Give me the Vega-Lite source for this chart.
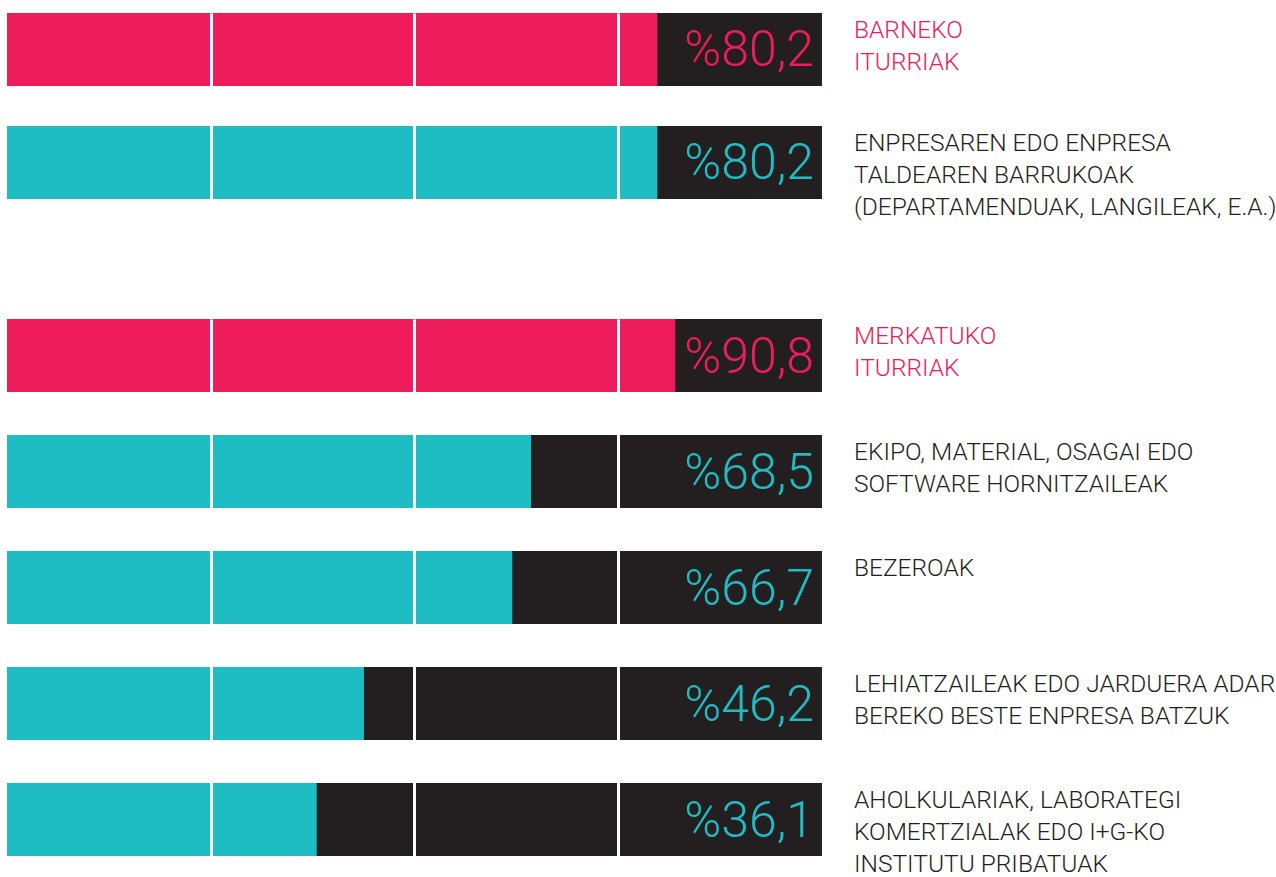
{
  "$schema": "https://vega.github.io/schema/vega-lite/v6.json",
  "padding": {"left": 7, "top": 13, "right": 0, "bottom": 0},
  "background": "white",
  "spacing": 76,
  "bounds": "flush",
  "config": {"view": {"stroke": null}, "font": "Roboto"},
  "datasets": {
    "rows": [
      {"panel": "top", "name": "BARNEKO\nITURRIAK", "kind": "header", "value": 80.2, "filled": 79.8},
      {"panel": "top", "name": "ENPRESAREN EDO ENPRESA\nTALDEAREN BARRUKOAK\n(DEPARTAMENDUAK, LANGILEAK, E.A.)", "kind": "item", "value": 80.2, "filled": 79.8},
      {"panel": "bottom", "name": "MERKATUKO\nITURRIAK", "kind": "header", "value": 90.8, "filled": 82.0},
      {"panel": "bottom", "name": "EKIPO, MATERIAL, OSAGAI EDO\nSOFTWARE HORNITZAILEAK", "kind": "item", "value": 68.5, "filled": 64.3},
      {"panel": "bottom", "name": "BEZEROAK", "kind": "item", "value": 66.7, "filled": 62.0},
      {"panel": "bottom", "name": "LEHIATZAILEAK EDO JARDUERA ADAR\nBEREKO BESTE ENPRESA BATZUK", "kind": "item", "value": 46.2, "filled": 43.8},
      {"panel": "bottom", "name": "AHOLKULARIAK, LABORATEGI\nKOMERTZIALAK EDO I+G-KO\nINSTITUTU PRIBATUAK", "kind": "item", "value": 36.1, "filled": 38.0}
    ]
  },
  "vconcat": [
    {
      "width": 1269,
      "height": 230,
      "data": {"name": "rows"},
      "transform": [
        {"filter": "datum.panel === 'top'"},
        {"calculate": "'%' + replace(format(datum.value, '.1f'), '.', ',')", "as": "valueText"}
      ],
      "encoding": {
        "y": {"field": "name", "type": "nominal", "sort": null, "axis": null,
              "scale": {"paddingInner": 0.354, "paddingOuter": 0.1947, "align": 0}}
      },
      "layer": [
        {
          "mark": {"type": "bar", "color": "#231F20"},
          "encoding": {
            "x": {"datum": 100, "type": "quantitative",
                  "scale": {"domain": [0, 155.71], "nice": false, "zero": true},
                  "axis": {"values": [25, 50, 75], "grid": true, "gridColor": "#ffffff", "gridWidth": 3, "gridOpacity": 1,
                           "labels": false, "ticks": false, "domain": false, "title": null, "zindex": 1}}
          }
        },
        {
          "mark": {"type": "bar"},
          "encoding": {
            "x": {"field": "filled", "type": "quantitative"},
            "color": {"field": "kind", "type": "nominal",
                      "scale": {"domain": ["header", "item"], "range": ["#EE1C5A", "#1DBDC3"]}, "legend": null}
          }
        },
        {
          "mark": {"type": "text", "align": "right", "baseline": "alphabetic", "dx": -8, "dy": 17,
                   "fontSize": 50, "fontWeight": 300, "font": "Roboto"},
          "encoding": {
            "x": {"datum": 100, "type": "quantitative"},
            "text": {"field": "valueText"},
            "color": {"field": "kind", "type": "nominal", "legend": null}
          }
        },
        {
          "mark": {"type": "text", "align": "left", "baseline": "top", "dx": 32, "dy": 6,
                   "fontSize": 24.5, "fontWeight": 300, "font": "Roboto", "lineBreak": "\n", "lineHeight": 32, "clip": true},
          "encoding": {
            "x": {"datum": 100, "type": "quantitative"},
            "y": {"field": "name", "type": "nominal", "sort": null, "bandPosition": 0, "axis": null},
            "text": {"field": "name"},
            "color": {"condition": {"test": "datum.kind === 'header'", "value": "#EE1C5A"}, "value": "#231F20"}
          }
        }
      ]
    },
    {
      "width": 1269,
      "height": 558,
      "data": {"name": "rows"},
      "transform": [
        {"filter": "datum.panel === 'bottom'"},
        {"calculate": "'%' + replace(format(datum.value, '.1f'), '.', ',')", "as": "valueText"}
      ],
      "encoding": {
        "y": {"field": "name", "type": "nominal", "sort": null, "axis": null,
              "scale": {"paddingInner": 0.3707, "paddingOuter": 0.0904, "align": 0}}
      },
      "layer": [
        {
          "mark": {"type": "bar", "color": "#231F20"},
          "encoding": {
            "x": {"datum": 100, "type": "quantitative",
                  "scale": {"domain": [0, 155.71], "nice": false, "zero": true},
                  "axis": {"values": [25, 50, 75], "grid": true, "gridColor": "#ffffff", "gridWidth": 3, "gridOpacity": 1,
                           "labels": false, "ticks": false, "domain": false, "title": null, "zindex": 1}}
          }
        },
        {
          "mark": {"type": "bar"},
          "encoding": {
            "x": {"field": "filled", "type": "quantitative"},
            "color": {"field": "kind", "type": "nominal",
                      "scale": {"domain": ["header", "item"], "range": ["#EE1C5A", "#1DBDC3"]}, "legend": null}
          }
        },
        {
          "mark": {"type": "text", "align": "right", "baseline": "alphabetic", "dx": -8, "dy": 17,
                   "fontSize": 50, "fontWeight": 300, "font": "Roboto"},
          "encoding": {
            "x": {"datum": 100, "type": "quantitative"},
            "text": {"field": "valueText"},
            "color": {"field": "kind", "type": "nominal", "legend": null}
          }
        },
        {
          "mark": {"type": "text", "align": "left", "baseline": "top", "dx": 32, "dy": 6,
                   "fontSize": 24.5, "fontWeight": 300, "font": "Roboto", "lineBreak": "\n", "lineHeight": 32, "clip": true},
          "encoding": {
            "x": {"datum": 100, "type": "quantitative"},
            "y": {"field": "name", "type": "nominal", "sort": null, "bandPosition": 0, "axis": null},
            "text": {"field": "name"},
            "color": {"condition": {"test": "datum.kind === 'header'", "value": "#EE1C5A"}, "value": "#231F20"}
          }
        }
      ]
    }
  ]
}
